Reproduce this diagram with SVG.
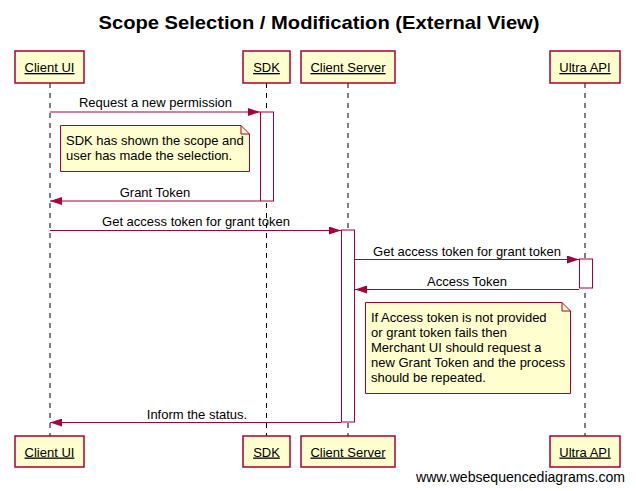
<svg xmlns="http://www.w3.org/2000/svg" width="636" height="491" viewBox="0 0 636 491">
<style>
.t{font-family:"Liberation Sans",Arial,sans-serif;font-size:13px;fill:#000}
.p{fill:#FEFECE;stroke:#A80036;stroke-width:1.5}
.pl{text-decoration:underline;text-anchor:middle}
.life{stroke:#000;stroke-width:1;stroke-dasharray:5,5}
.act{fill:#fff;stroke:#A80036;stroke-width:1}
.msg{stroke:#A80036;stroke-width:1;fill:none;marker-end:url(#ah)}
.note{fill:#FBFB77;fill:#FEFECE;stroke:#A80036;stroke-width:1}
.m{text-anchor:middle}
</style>
<defs>
<marker id="ah" viewBox="0 0 12 8" refX="12" refY="4" markerWidth="12" markerHeight="8" markerUnits="userSpaceOnUse" orient="auto">
<path d="M0,0 L12,4 L0,8 Z" fill="#A80036"/>
</marker>
</defs>
<rect width="636" height="491" fill="#fff"/>
<text x="319" y="28.5" font-family="'Liberation Sans',Arial,sans-serif" font-size="19" font-weight="bold" text-anchor="middle" textLength="441" lengthAdjust="spacingAndGlyphs">Scope Selection / Modification (External View)</text>
<g id="lifelines">
<line class="life" x1="50" y1="83" x2="50" y2="436"/>
<line class="life" x1="266.5" y1="83" x2="266.5" y2="436"/>
<line class="life" x1="348" y1="83" x2="348" y2="436"/>
<line class="life" x1="585" y1="83" x2="585" y2="436"/>
</g>
<g id="p-clientui-top"><rect class="p" x="15" y="51" width="69" height="32"/><text class="t pl" x="49.5" y="72">Client UI</text></g>
<g id="p-sdk-top"><rect class="p" x="243" y="51" width="47" height="32"/><text class="t pl" x="266.5" y="72">SDK</text></g>
<g id="p-clientserver-top"><rect class="p" x="301" y="51" width="94" height="32"/><text class="t pl" x="348" y="72">Client Server</text></g>
<g id="p-ultraapi-top"><rect class="p" x="550" y="51" width="70" height="32"/><text class="t pl" x="585" y="72">Ultra API</text></g>
<g id="p-clientui-bottom"><rect class="p" x="15" y="436" width="69" height="31"/><text class="t pl" x="49.5" y="456.5">Client UI</text></g>
<g id="p-sdk-bottom"><rect class="p" x="243" y="436" width="47" height="31"/><text class="t pl" x="266.5" y="456.5">SDK</text></g>
<g id="p-clientserver-bottom"><rect class="p" x="301" y="436" width="94" height="31"/><text class="t pl" x="348" y="456.5">Client Server</text></g>
<g id="p-ultraapi-bottom"><rect class="p" x="550" y="436" width="70" height="31"/><text class="t pl" x="585" y="456.5">Ultra API</text></g>
<g id="activations">
<rect class="act" x="260.5" y="112" width="13" height="89"/>
<rect class="act" x="341.5" y="230" width="13" height="192"/>
<rect class="act" x="579.5" y="259" width="13" height="29"/>
</g>
<g id="connectors">
<line class="msg" x1="50" y1="112" x2="260" y2="112"/>
<text class="t m" x="155.5" y="107">Request a new permission</text>
<line class="msg" x1="260" y1="201" x2="50" y2="201"/>
<text class="t m" x="155" y="197">Grant Token</text>
<line class="msg" x1="50" y1="230.5" x2="341" y2="230.5"/>
<text class="t m" x="196" y="226">Get access token for grant token</text>
<line class="msg" x1="355" y1="259.5" x2="579" y2="259.5"/>
<text class="t m" x="467" y="255.5">Get access token for grant token</text>
<line class="msg" x1="579" y1="289.5" x2="355" y2="289.5"/>
<text class="t m" x="467" y="285.5">Access Token</text>
<line class="msg" x1="341" y1="422.5" x2="50" y2="422.5"/>
<text class="t m" x="197" y="418.5">Inform the status.</text>
</g>
<g id="note1">
<path class="note" d="M60.5,125.5 H241 L249.5,134 V171.5 H60.5 Z"/>
<path d="M241,125.5 V134 H249.5" fill="none" stroke="#A80036" stroke-width="1"/>
<text class="t" x="66" y="145">SDK has shown the scope and</text>
<text class="t" x="66" y="160">user has made the selection.</text>
</g>
<g id="note2">
<path class="note" d="M365.5,302.5 H562 L570.5,311 V393.5 H365.5 Z"/>
<path d="M562,302.5 V311 H570.5" fill="none" stroke="#A80036" stroke-width="1"/>
<text class="t" x="371" y="322">If Access token is not provided</text>
<text class="t" x="371" y="337">or grant token fails then</text>
<text class="t" x="371" y="352">Merchant UI should request a</text>
<text class="t" x="371" y="367">new Grant Token and the process</text>
<text class="t" x="371" y="382">should be repeated.</text>
</g>
<text x="625" y="482" font-family="'Liberation Sans',Arial,sans-serif" font-size="14" text-anchor="end" textLength="209" lengthAdjust="spacingAndGlyphs">www.websequencediagrams.com</text>
</svg>
